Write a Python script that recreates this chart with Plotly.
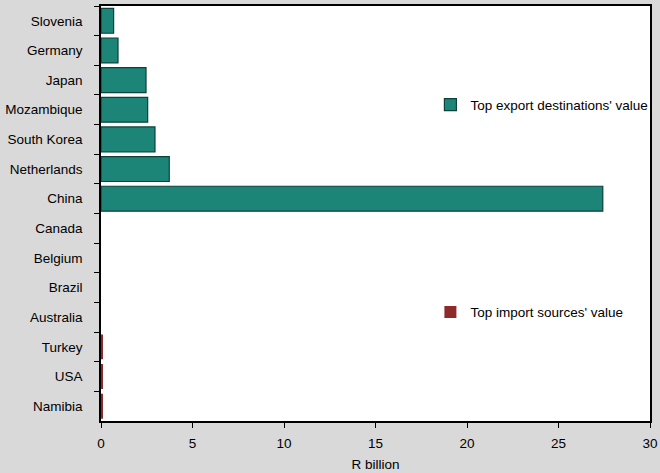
import plotly.graph_objects as go

countries = ["Slovenia", "Germany", "Japan", "Mozambique", "South Korea", "Netherlands",
             "China", "Canada", "Belgium", "Brazil", "Australia", "Turkey", "USA", "Namibia"]
export_values = [0.69, 0.93, 2.46, 2.55, 2.95, 3.73, 27.42,
                 None, None, None, None, None, None, None]
import_values = [None, None, None, None, None, None, None,
                 0.0, 0.0, 0.0, 0.0, 0.08, 0.08, 0.08]
x_ticks = [0, 5, 10, 15, 20, 25, 30]

font_family = "Liberation Sans, Arial, sans-serif"

fig = go.Figure()
fig.add_trace(go.Bar(
    y=countries, x=export_values, orientation="h",
    name="Top export destinations' value",
    marker=dict(color="#1d8577", line=dict(color="#0b423b", width=1.2)),
    width=0.84, legend="legend",
))
fig.add_trace(go.Bar(
    y=countries, x=import_values, orientation="h",
    name="Top import sources' value",
    marker=dict(color="#8e2a2a", line=dict(color="#5a1010", width=0)),
    width=0.84, legend="legend2",
))

fig.update_layout(
    width=660, height=473,
    margin=dict(l=101, r=10, t=6, b=52),
    paper_bgcolor="#d9d9d9",
    plot_bgcolor="#ffffff",
    barmode="overlay",
    font=dict(family=font_family, size=13.5, color="#000000"),
    legend=dict(x=0.6, y=0.762, xanchor="left", yanchor="middle",
                bgcolor="rgba(0,0,0,0)", font=dict(size=13.5),
                itemwidth=30, tracegroupgap=0),
    legend2=dict(x=0.6, y=0.262, xanchor="left", yanchor="middle",
                 bgcolor="rgba(0,0,0,0)", font=dict(size=13.5),
                 itemwidth=30, tracegroupgap=0),
    showlegend=True,
)
fig.update_xaxes(
    range=[0, 30], tickvals=x_ticks, ticktext=[str(v) for v in x_ticks],
    showgrid=False, zeroline=False, automargin=False,
    showline=True, linecolor="#000000", linewidth=1.5, mirror=True,
    ticks="outside", ticklen=5, tickcolor="#000000", ticklabelstandoff=4,
    title=dict(text="R billion", standoff=10, font=dict(size=13.5)),
)
fig.update_yaxes(
    categoryorder="array", categoryarray=countries, range=[13.5, -0.5],
    showgrid=False, zeroline=False, automargin=False,
    showline=True, linecolor="#000000", linewidth=1.5, mirror=True,
    ticks="outside", ticklen=5, tickcolor="#000000", tickson="boundaries",
    ticklabelstandoff=14,
)

fig.write_html(
    "out.html",
    config={"displayModeBar": False},
    post_script="document.body.style.margin='0';document.body.style.background='#d9d9d9';",
)
